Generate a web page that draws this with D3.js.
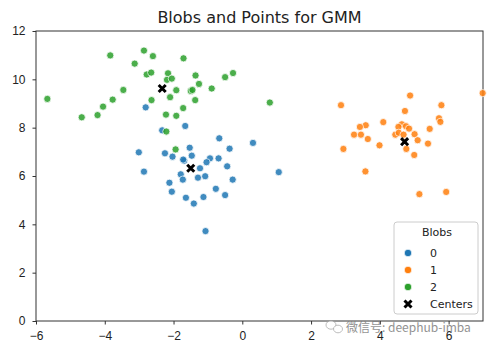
<!DOCTYPE html>
<html>
<head>
  <meta charset="utf-8">
  <title>Blobs and Points for GMM</title>
  <style>
    body { margin: 0; background: #fff; }
    svg { font-family: "DejaVu Sans", sans-serif; }
    .axis text { font-size: 12px; fill: #222; }
    .axis path, .axis line { stroke: #333; }
    .dot { stroke: #fff; stroke-width: 0.8; opacity: 0.85; }
  </style>
</head>
<body>
<script src="https://cdn.jsdelivr.net/npm/d3@7"></script>
<script>
  // blob 0 (blue)
  const blob0X = [-2.81, -1.66, -2.33, -0.67, 0.31, -0.37, -1.53, -3.01, -2.25, -2.03, -1.47, -1.69, -0.94, -1.04, -0.69, -1.23, -0.44, -2.86, -1.79, -1.73, -1.29, -1.08, -0.28, -2.12, -2.05, -0.77, -0.50, -1.64, -1.13, -1.41, -1.07, 1.06, -1.72];
  const blob0Y = [8.84, 8.07, 7.89, 7.56, 7.37, 7.13, 7.17, 6.98, 6.94, 6.80, 6.84, 6.63, 6.73, 6.57, 6.73, 6.32, 6.40, 6.18, 6.07, 5.85, 5.93, 5.99, 5.85, 5.72, 5.35, 5.47, 5.21, 5.10, 5.13, 4.86, 3.72, 6.16, 6.68];
  // blob 1 (orange)
  const blob1X = [4.88, 2.87, 5.79, 4.73, 5.72, 5.76, 4.10, 3.59, 3.42, 4.64, 4.54, 4.76, 4.85, 5.45, 3.25, 3.45, 4.45, 4.55, 4.69, 5.01, 3.65, 5.10, 5.40, 3.99, 2.94, 4.77, 5.00, 3.58, 5.15, 5.93, 6.99];
  const blob1Y = [9.33, 8.93, 8.93, 8.69, 8.39, 8.24, 8.23, 8.10, 8.03, 8.14, 8.03, 8.06, 7.96, 7.95, 7.71, 7.71, 7.71, 7.79, 7.71, 7.73, 7.53, 7.48, 7.34, 7.27, 7.12, 7.12, 6.87, 6.19, 5.25, 5.34, 9.43];
  // blob 2 (green)
  const blob2X = [-3.84, -2.86, -2.60, -1.71, -3.13, -2.78, -2.65, -2.16, -2.19, -2.05, -1.36, -1.26, -0.50, -0.27, -0.89, -1.92, -1.50, -1.45, -2.10, -1.37, -2.64, -1.72, -2.22, -1.92, -5.67, -3.46, -3.77, -4.05, -4.67, -4.21, 0.80, -2.21, -1.94];
  const blob2Y = [10.99, 11.19, 10.96, 10.87, 10.65, 10.20, 10.28, 10.25, 9.98, 10.03, 10.16, 9.81, 10.09, 10.26, 9.62, 9.55, 9.52, 9.56, 9.26, 9.14, 9.14, 8.81, 8.54, 8.49, 9.19, 9.56, 9.16, 8.87, 8.43, 8.52, 9.04, 7.84, 7.10];
  // GMM centers
  const centerX = [-1.50, 4.72, -2.33];
  const centerY = [6.32, 7.42, 9.62];

  const blobLabels = ["0", "1", "2"];
  const colors = ["#1f77b4", "#ff7f0e", "#2ca02c"];
  const xTicks = [-6, -4, -2, 0, 2, 4, 6];
  const yTicks = [0, 2, 4, 6, 8, 10, 12];

  const width = 491, height = 352;
  const margin = { top: 31, right: 8, bottom: 31, left: 36 };

  const x = d3.scaleLinear().domain([-6, 7]).range([margin.left, width - margin.right]);
  const y = d3.scaleLinear().domain([0, 12]).range([height - margin.bottom, margin.top]);

  const svg = d3.select("body").append("svg")
    .attr("width", width)
    .attr("height", height);

  const fmt = d => d < 0 ? "\u2212" + Math.abs(d) : String(d);

  svg.append("g")
    .attr("class", "axis")
    .attr("transform", `translate(0,${height - margin.bottom})`)
    .call(d3.axisBottom(x).tickValues(xTicks).tickFormat(fmt).tickSize(3.5).tickPadding(7))
    .call(g => g.select(".domain").remove());

  svg.append("g")
    .attr("class", "axis")
    .attr("transform", `translate(${margin.left},0)`)
    .call(d3.axisLeft(y).tickValues(yTicks).tickFormat(fmt).tickSize(3.5).tickPadding(7))
    .call(g => g.select(".domain").remove());

  // frame
  svg.append("rect")
    .attr("x", margin.left)
    .attr("y", margin.top)
    .attr("width", width - margin.left - margin.right)
    .attr("height", height - margin.top - margin.bottom)
    .attr("fill", "none")
    .attr("stroke", "#333")
    .attr("stroke-width", 1);

  const blobs = [[blob0X, blob0Y], [blob1X, blob1Y], [blob2X, blob2Y]];
  blobs.forEach(([bx, by], k) => {
    svg.append("g").selectAll("circle")
      .data(bx.map((v, i) => [v, by[i]]))
      .enter()
      .append("circle")
      .attr("class", "dot")
      .attr("cx", d => x(d[0]))
      .attr("cy", d => y(d[1]))
      .attr("r", 3.6)
      .attr("fill", colors[k]);
  });

  const xMark = d3.symbol(d3.symbolX, 34);
  svg.append("g").selectAll("path")
    .data(centerX.map((v, i) => [v, centerY[i]]))
    .enter()
    .append("path")
    .attr("d", xMark)
    .attr("transform", d => `translate(${x(d[0])},${y(d[1])})`)
    .attr("stroke", "#000")
    .attr("stroke-width", 3);

  // title
  svg.append("text")
    .attr("x", (margin.left + width - margin.right) / 2)
    .attr("y", 23)
    .attr("text-anchor", "middle")
    .attr("font-size", 16)
    .attr("fill", "#222")
    .text("Blobs and Points for GMM");

  // legend
  const lg = svg.append("g").attr("transform", "translate(394,222)");
  lg.append("rect")
    .attr("width", 84).attr("height", 92)
    .attr("rx", 3)
    .attr("fill", "#fff").attr("fill-opacity", 0.8)
    .attr("stroke", "#ccc");
  lg.append("text")
    .attr("x", 43).attr("y", 14)
    .attr("text-anchor", "middle")
    .attr("font-size", 11)
    .attr("fill", "#222")
    .text("Blobs");
  const items = blobLabels.concat(["Centers"]);
  items.forEach((t, i) => {
    const cy = 31 + i * 17;
    if (i < 3) {
      lg.append("circle").attr("cx", 14).attr("cy", cy).attr("r", 3.8)
        .attr("fill", colors[i]).attr("stroke", "#fff").attr("stroke-width", 0.8);
    } else {
      lg.append("path").attr("d", xMark).attr("transform", `translate(14,${cy})`)
        .attr("stroke", "#000").attr("stroke-width", 3);
    }
    lg.append("text")
      .attr("x", 36).attr("y", cy + 4)
      .attr("font-size", 11)
      .attr("fill", "#222")
      .text(t);
  });

  // watermark
  const wm = svg.append("g").attr("opacity", 0.8);
  wm.append("ellipse").attr("cx", 331).attr("cy", 325).attr("rx", 5).attr("ry", 4.2)
    .attr("fill", "#fff").attr("stroke", "#999").attr("stroke-width", 0.8);
  wm.append("ellipse").attr("cx", 338).attr("cy", 329).attr("rx", 4.5).attr("ry", 3.8)
    .attr("fill", "#fff").attr("stroke", "#999").attr("stroke-width", 0.8);
  wm.append("text")
    .attr("x", 346).attr("y", 332)
    .attr("font-family", "'Noto Sans CJK SC', sans-serif")
    .attr("font-size", 12)
    .attr("fill", "#777")
    .text("微信号: deephub-imba");
</script>
</body>
</html>
